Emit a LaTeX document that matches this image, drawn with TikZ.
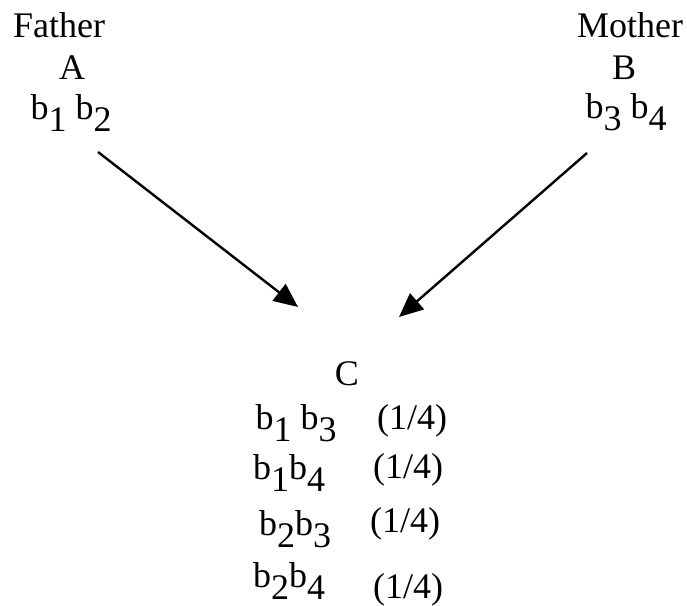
\documentclass[tikz,border=0pt]{standalone}
\usepackage{fontspec}
\setmainfont{Liberation Serif}
\usetikzlibrary{arrows.meta}
\newcommand\lowr[1]{\raisebox{-12bp}{#1}}
\tikzset{
  lbl/.style={anchor=base, inner sep=0pt, font=\fontsize{36bp}{40bp}\selectfont},
  conn/.style={line width=2.4bp, -{Triangle[length=24bp,width=21bp]}}
}
\begin{document}
\begin{tikzpicture}[x=1bp,y=-1bp]
\useasboundingbox (0,0) rectangle (687,606);
% Father
\node[lbl] (father) at (59,38) {Father};
\node[lbl] (a) at (72,80) {A};
\node[lbl] (b12) at (71,120) {b\lowr{1} b\lowr{2}};
% Mother
\node[lbl] (mother) at (630,38) {Mother};
\node[lbl] (b) at (624,80) {B};
\node[lbl] (b34) at (626,119) {b\lowr{3} b\lowr{4}};
% Child
\node[lbl] (c) at (347,385) {C};
\node[lbl] (r1) at (296,429) {b\lowr{1} b\lowr{3}};
\node[lbl] (p1) at (412,429) {(1/4)};
\node[lbl] (r2) at (289,479) {b\lowr{1}b\lowr{4}};
\node[lbl] (p2) at (408,478) {(1/4)};
\node[lbl] (r3) at (295,535) {b\lowr{2}b\lowr{3}};
\node[lbl] (p3) at (405,532) {(1/4)};
\node[lbl] (r4) at (289,587) {b\lowr{2}b\lowr{4}};
\node[lbl] (p4) at (408,598) {(1/4)};
% arrows
\coordinate (s1) at (98,152);
\coordinate (e1) at (298,307);
\coordinate (s2) at (587,153);
\coordinate (e2) at (399,317);
\draw[conn] (s1) -- (e1);
\draw[conn] (s2) -- (e2);
\end{tikzpicture}
\end{document}
